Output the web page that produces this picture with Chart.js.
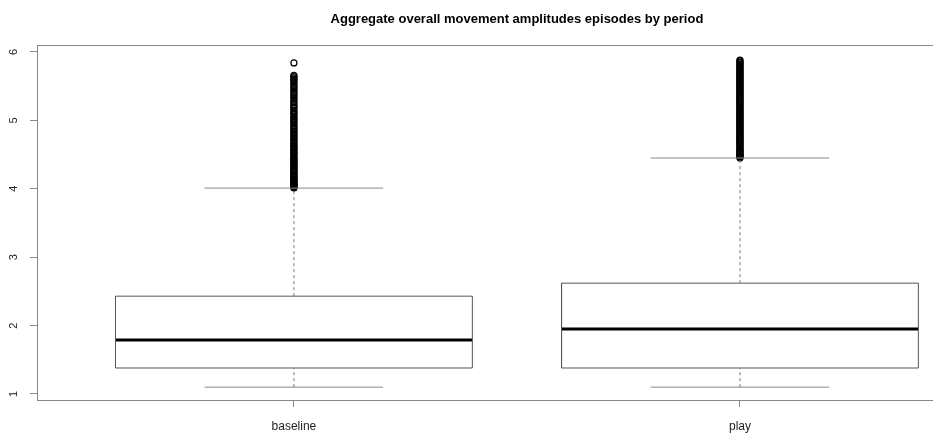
<!DOCTYPE html>
<html>
<head>
<meta charset="utf-8">
<title>Aggregate overall movement amplitudes episodes by period</title>
<script src="https://cdn.jsdelivr.net/npm/chart.js@4"></script>
<style>
  html, body { margin: 0; padding: 0; background: #fff; overflow: hidden; }
  canvas { display: block; }
</style>
</head>
<body>
<!-- the plot is wider than the window; its right end is cut off like the original -->
<canvas id="chart" width="1000" height="433"></canvas>
<script>
// boxplot stats per period
const categories = ['baseline', 'play'];
const lowerWhisker = [1.10, 1.10];
const lowerQuartile = [1.38, 1.38];
const medians = [1.79, 1.95];
const upperQuartile = [2.43, 2.62];
const upperWhisker = [4.01, 4.45];
const yTicks = [1, 2, 3, 4, 5, 6];

// outliers above the upper whisker
const baselineOutliers = [4.01, 4.02, 4.03, 4.04, 4.05, 4.06, 4.07, 4.08, 4.09, 4.11,
  4.12, 4.13, 4.14, 4.16, 4.17, 4.19, 4.20, 4.22, 4.23, 4.25, 4.27, 4.28, 4.30,
  4.31, 4.33, 4.34, 4.36, 4.37, 4.39, 4.40, 4.42, 4.43, 4.45, 4.46, 4.48, 4.50,
  4.52, 4.53, 4.55, 4.57, 4.59, 4.60, 4.62, 4.64, 4.66, 4.68, 4.70, 4.72, 4.74,
  4.76, 4.78, 4.80, 4.82, 4.84, 4.86, 4.88, 4.90, 4.92, 4.95, 4.97, 4.99, 5.01,
  5.03, 5.05, 5.08, 5.10, 5.12, 5.14, 5.17, 5.19, 5.21, 5.23, 5.26, 5.28, 5.31,
  5.33, 5.36, 5.38, 5.41, 5.43, 5.46, 5.48, 5.51, 5.53, 5.56, 5.58, 5.60, 5.62,
  5.64, 5.66, 5.84];
const playOutliers = [4.45, 4.46, 4.47, 4.48, 4.49, 4.50, 4.51, 4.53, 4.54, 4.55,
  4.56, 4.58, 4.59, 4.61, 4.62, 4.64, 4.65, 4.67, 4.68, 4.70, 4.71, 4.73, 4.74,
  4.76, 4.77, 4.79, 4.80, 4.82, 4.83, 4.85, 4.86, 4.88, 4.89, 4.91, 4.92, 4.94,
  4.95, 4.97, 4.98, 5.00, 5.01, 5.03, 5.04, 5.06, 5.07, 5.09, 5.10, 5.12, 5.13,
  5.15, 5.16, 5.18, 5.19, 5.21, 5.22, 5.24, 5.25, 5.27, 5.28, 5.30, 5.31, 5.33,
  5.34, 5.36, 5.37, 5.39, 5.40, 5.42, 5.43, 5.45, 5.46, 5.48, 5.49, 5.51, 5.52,
  5.54, 5.55, 5.57, 5.58, 5.60, 5.61, 5.63, 5.64, 5.66, 5.67, 5.69, 5.70, 5.72,
  5.73, 5.75, 5.76, 5.78, 5.79, 5.81, 5.82, 5.84, 5.85, 5.87, 5.88];
const outliers = [baselineOutliers, playOutliers];

const boxHalf = 0.4;
const stapleHalf = 0.2;

function lineSet(points, color, width, dash) {
    return {
        type: 'line',
        data: points,
        borderColor: color,
        borderWidth: width,
        borderDash: dash || [],
        pointRadius: 0,
        fill: false,
        tension: 0
    };
}

const datasets = [];
categories.forEach((cat, i) => {
    const x = i + 1;
    // dashed whisker stems
    datasets.push(lineSet([{x: x, y: upperQuartile[i]}, {x: x, y: upperWhisker[i]}], '#777', 1, [3, 3]));
    datasets.push(lineSet([{x: x, y: lowerWhisker[i]}, {x: x, y: lowerQuartile[i]}], '#777', 1, [3, 3]));
    // staples
    datasets.push(lineSet([{x: x - stapleHalf, y: upperWhisker[i]}, {x: x + stapleHalf, y: upperWhisker[i]}], '#888', 1));
    datasets.push(lineSet([{x: x - stapleHalf, y: lowerWhisker[i]}, {x: x + stapleHalf, y: lowerWhisker[i]}], '#888', 1));
    // box
    datasets.push(lineSet([
        {x: x - boxHalf, y: lowerQuartile[i]},
        {x: x + boxHalf, y: lowerQuartile[i]},
        {x: x + boxHalf, y: upperQuartile[i]},
        {x: x - boxHalf, y: upperQuartile[i]},
        {x: x - boxHalf, y: lowerQuartile[i]}
    ], '#555', 1));
    // median
    datasets.push(lineSet([{x: x - boxHalf, y: medians[i]}, {x: x + boxHalf, y: medians[i]}], '#000', 3));
    // outliers
    datasets.push({
        type: 'scatter',
        data: outliers[i].map(v => ({x: x, y: v})),
        pointStyle: 'circle',
        pointRadius: 3,
        pointBorderWidth: 1.2,
        pointBorderColor: '#000',
        pointBackgroundColor: 'rgba(0,0,0,0)',
        showLine: false
    });
});

// frame, rotated y labels and title, R style
const rDecor = {
    id: 'rDecor',
    afterDraw(chart) {
        const ctx = chart.ctx;
        const area = chart.chartArea;
        const xs = chart.scales.x;
        const ys = chart.scales.y;
        ctx.save();
        ctx.strokeStyle = '#888';
        ctx.lineWidth = 1;
        ctx.strokeRect(Math.round(area.left) + 0.5, Math.round(area.top) + 0.5,
            Math.round(area.right - area.left) - 2, Math.round(area.bottom - area.top));

        ctx.fillStyle = '#222';
        ctx.font = '11px "Liberation Sans", Arial, sans-serif';
        ctx.textAlign = 'center';
        ctx.textBaseline = 'middle';
        yTicks.forEach(v => {
            const py = ys.getPixelForValue(v);
            ctx.save();
            ctx.translate(14, py);
            ctx.rotate(-Math.PI / 2);
            ctx.fillText(String(v), 0, 0);
            ctx.restore();
        });

        ctx.fillStyle = '#000';
        ctx.font = 'bold 13px "Liberation Sans", Arial, sans-serif';
        ctx.fillText('Aggregate overall movement amplitudes episodes by period', xs.getPixelForValue(1.5), 19);
        ctx.restore();
    }
};

new Chart(document.getElementById('chart'), {
    data: { datasets: datasets },
    options: {
        responsive: false,
        animation: false,
        layout: { autoPadding: false, padding: { left: 30, right: 0, top: 45, bottom: 0 } },
        plugins: {
            legend: { display: false },
            tooltip: { enabled: false },
            title: { display: false }
        },
        scales: {
            x: {
                type: 'linear',
                min: 0.424,
                max: 2.583,
                afterBuildTicks: (scale) => {
                    scale.ticks = categories.map((c, i) => ({ value: i + 1 }));
                },
                afterFit: (scale) => { scale.height = 33; },
                ticks: {
                    padding: 12,
                    color: '#222',
                    font: { family: '"Liberation Sans", Arial, sans-serif', size: 12 },
                    callback: (v) => categories[v - 1] || ''
                },
                grid: { drawOnChartArea: false, tickLength: 7, color: '#888' },
                border: { display: false }
            },
            y: {
                type: 'linear',
                min: 0.912,
                max: 6.102,
                afterBuildTicks: (scale) => {
                    scale.ticks = yTicks.map(v => ({ value: v }));
                },
                afterFit: (scale) => { scale.width = 7; },
                ticks: { display: false },
                grid: { drawOnChartArea: false, tickLength: 7, color: '#888' },
                border: { display: false }
            }
        }
    },
    plugins: [rDecor]
});
</script>
</body>
</html>
